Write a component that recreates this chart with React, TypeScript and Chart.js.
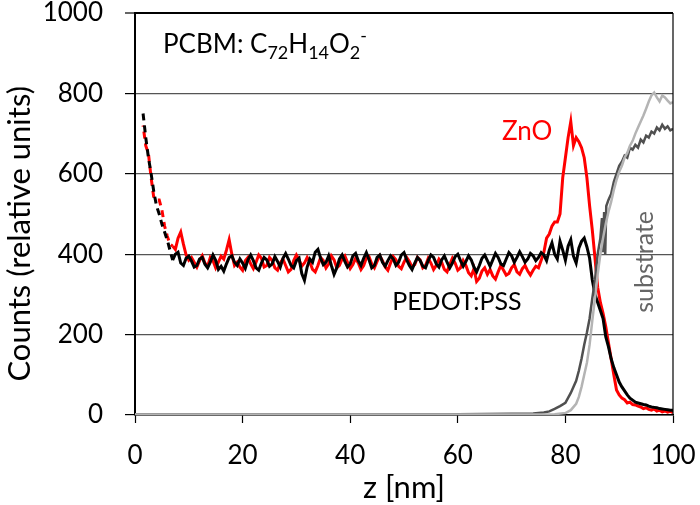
import React, { useEffect, useRef } from 'react';
import { Chart, registerables } from 'chart.js';

Chart.register(...registerables);

const FONT = 'Lato';

// depth grid (nm) for the PCBM-fragment profiles
const zGrid = [
  1.5, 2, 2.5, 3, 3.5, 4, 4.5, 5, 5.5, 6,
  6.5, 7, 7.5, 8, 8.5, 9, 9.5, 10, 10.5, 11,
  11.5, 12, 12.5, 13, 13.5, 14, 14.5, 15, 15.5, 16,
  16.5, 17, 17.5, 18, 18.5, 19, 19.5, 20, 20.5, 21,
  21.5, 22, 22.5, 23, 23.5, 24, 24.5, 25, 25.5, 26,
  26.5, 27, 27.5, 28, 28.5, 29, 29.5, 30, 30.5, 31,
  31.5, 32, 32.5, 33, 33.5, 34, 34.5, 35, 35.5, 36,
  36.5, 37, 37.5, 38, 38.5, 39, 39.5, 40, 40.5, 41,
  41.5, 42, 42.5, 43, 43.5, 44, 44.5, 45, 45.5, 46,
  46.5, 47, 47.5, 48, 48.5, 49, 49.5, 50, 50.5, 51,
  51.5, 52, 52.5, 53, 53.5, 54, 54.5, 55, 55.5, 56,
  56.5, 57, 57.5, 58, 58.5, 59, 59.5, 60, 60.5, 61,
  61.5, 62, 62.5, 63, 63.5, 64, 64.5, 65, 65.5, 66,
  66.5, 67, 67.5, 68, 68.5, 69, 69.5, 70, 70.5, 71,
  71.5, 72, 72.5, 73, 73.5, 74, 74.5, 75, 75.5, 76,
  76.5, 77, 77.5, 78, 78.5, 79, 79.5, 80, 80.5, 81,
  81.5, 82, 82.5, 83, 83.5, 84, 84.5, 85, 85.5, 86,
  86.5, 87, 87.5, 88, 88.5, 89, 89.5, 90, 90.5, 91,
  91.5, 92, 92.5, 93, 93.5, 94, 94.5, 95, 95.5, 96,
  96.5, 97, 97.5, 98, 98.5, 99, 99.5, 100,
];

// PCBM signal on PEDOT:PSS (black)
const pedotCounts = [
  750, 690, 640, 600, 555, 520, 500, 475, 455, 435,
  410, 385, 400, 405, 378, 372, 390, 395, 383, 368,
  372, 388, 392, 375, 366, 380, 398, 385, 362, 370,
  358, 376, 392, 396, 380, 372, 388, 378, 365, 386,
  398, 384, 366, 360, 378, 392, 386, 370, 376, 394,
  382, 368, 390, 402, 388, 372, 366, 384, 390, 352,
  335, 368, 388, 380, 405, 412, 390, 374, 380, 396,
  372, 350, 366, 388, 398, 382, 368, 376, 396, 402,
  384, 372, 390, 404, 386, 366, 372, 392, 398, 380,
  370, 384, 396, 388, 372, 380, 398, 404, 386, 372,
  362, 378, 392, 384, 370, 366, 384, 398, 392, 376,
  368, 386, 396, 380, 366, 378, 394, 400, 384, 370,
  382, 396, 386, 368, 356, 372, 390, 398, 384, 370,
  386, 402, 392, 376, 372, 388, 404, 396, 380, 392,
  406, 394, 380, 388, 402, 396, 384, 392, 404, 398,
  384, 410, 428, 400, 388, 432, 410, 385, 420, 436,
  395, 378, 415, 432, 440, 418, 390, 336, 300, 280,
  260, 240, 195, 170, 140, 118, 100, 82, 70, 60,
  50, 42, 37, 32, 30, 28, 26, 25, 22, 20,
  19, 18, 16, 15, 14, 13, 12, 12,
];

// PCBM signal on ZnO (red)
const znoCounts = [
  720, 670, 650, 590, 540, 535, 535, 510, 470, 445,
  425, 420, 412, 440, 455, 425, 398, 385, 392, 380,
  368, 384, 396, 378, 370, 392, 384, 366, 380, 395,
  388, 410, 436, 400, 372, 380, 368, 360, 384, 392,
  376, 364, 380, 398, 390, 368, 372, 392, 384, 366,
  360, 378, 388, 372, 356, 362, 384, 398, 386, 370,
  378, 392, 380, 362, 356, 372, 392, 384, 366, 376,
  396, 386, 366, 372, 388, 396, 380, 364, 374, 390,
  378, 362, 372, 390, 394, 376, 366, 382, 396, 384,
  368, 360, 378, 394, 386, 370, 364, 380, 392, 382,
  368, 374, 392, 386, 366, 372, 390, 378, 362, 372,
  388, 380, 362, 356, 374, 390, 378, 360, 366, 384,
  372, 354, 346, 364, 332, 340, 358, 366, 350, 362,
  346, 338, 356, 372, 360, 348, 352, 366, 374, 356,
  350, 364, 372, 358, 348, 360, 370, 366, 385, 405,
  440, 450, 470, 480, 480, 500, 590, 640, 690, 730,
  670, 690, 680, 665, 640, 590, 520, 460, 390, 318,
  280, 253, 220, 180, 140, 100, 62, 50, 42, 38,
  30, 32, 26, 25, 22, 20, 16, 18, 14, 12,
  15, 10, 12, 8, 10, 7, 9, 6,
];

// substrate signal, PEDOT:PSS sample (dark grey)
const zSubDark = [
  0, 10, 20, 30, 40, 50, 60, 70, 74, 76, 77, 78, 79, 80, 81, 82,
  82.5, 83, 83.5, 84, 84.5, 85, 85.5, 86, 86.5, 86.8,
  87, 87.2, 87.4, 87.6, 88, 88.5, 89, 89.5, 90, 90.5,
  91, 91.5, 92, 92.5, 93, 93.5, 94, 94.5, 95, 95.5,
  96, 96.5, 97, 97.5, 98, 98.5, 99, 99.5, 100,
];
const subDarkCounts = [
  2, 2, 2, 2, 2, 2, 2, 3, 4, 6, 9, 15, 22, 30, 55, 85,
  110, 140, 175, 205, 240, 290, 336, 400, 440, 490,
  405, 505, 400, 520, 535, 550, 580, 600, 620, 630,
  645, 640, 665, 660, 672, 665, 685, 678, 695, 690,
  705, 700, 715, 708, 722, 712, 718, 708, 712,
];

// substrate signal, ZnO sample (light grey)
const zSubLight = [
  0, 10, 20, 30, 40, 50, 60, 70,
  78, 80, 81, 82, 82.5, 83, 83.5, 84, 84.5, 85,
  85.5, 86, 86.5, 87, 87.5, 88, 88.5, 89, 89.5, 90,
  90.5, 91, 91.5, 92, 92.5, 93, 93.5, 94, 94.5, 95,
  95.5, 96, 96.5, 97, 97.5, 98, 98.5, 99, 99.5, 100,
];
const subLightCounts = [
  1, 1, 1, 1, 1, 1, 1, 1,
  2, 5, 12, 28, 45, 70, 100, 130, 175, 235,
  290, 350, 400, 440, 475, 505, 530, 560, 585, 605,
  620, 640, 652, 670, 682, 700, 715, 730, 745, 762,
  780, 795, 802, 790, 780, 795, 790, 782, 775, 778,
];

const xTickStep = 20;
const yTickStep = 200;

const toXY = (xs: number[], ys: number[]) => xs.map((x, i) => ({ x, y: ys[i] }));

const annotations = {
  id: 'annotations',
  afterDatasetsDraw(chart: any) {
    const { ctx, chartArea, scales } = chart;
    const x = scales.x;
    const y = scales.y;
    ctx.save();
    // right frame
    ctx.strokeStyle = '#000';
    ctx.lineWidth = 1.2;
    ctx.beginPath();
    ctx.moveTo(chartArea.right, chartArea.top);
    ctx.lineTo(chartArea.right, chartArea.bottom);
    ctx.stroke();

    // PCBM formula
    ctx.fillStyle = '#000';
    ctx.textBaseline = 'alphabetic';
    ctx.textAlign = 'left';
    let px = x.getPixelForValue(5.2);
    const base = y.getPixelForValue(923) + 9;
    const big = `26px ${FONT}`;
    const small = `18px ${FONT}`;
    const parts: [string, string, number][] = [
      ['PCBM: C', big, 0],
      ['72', small, 6],
      ['H', big, 0],
      ['14', small, 6],
      ['O', big, 0],
      ['2', small, 6],
      ['-', small, -11],
    ];
    parts.forEach(([t, f, dy]) => {
      ctx.font = f;
      ctx.fillText(t, px, base + dy);
      px += ctx.measureText(t).width;
    });

    // ZnO label
    ctx.font = `26px ${FONT}`;
    ctx.fillStyle = '#ff0000';
    ctx.textBaseline = 'middle';
    ctx.fillText('ZnO', x.getPixelForValue(68.2), y.getPixelForValue(706));

    // PEDOT:PSS label
    ctx.fillStyle = '#000';
    ctx.font = `25px ${FONT}`;
    ctx.fillText('PEDOT:PSS', x.getPixelForValue(47.8), y.getPixelForValue(281));

    // substrate label
    ctx.translate(x.getPixelForValue(94.8), y.getPixelForValue(381));
    ctx.rotate(-Math.PI / 2);
    ctx.textAlign = 'center';
    ctx.fillStyle = '#666';
    ctx.font = `25px ${FONT}`;
    ctx.fillText('substrate', 0, 0);
    ctx.restore();
  },
};

export default function App() {
  const ref = useRef<HTMLCanvasElement>(null);
  useEffect(() => {
    if (!ref.current) return;
    const dash = (offset: number) => ({
      borderDash: (c: any) => (c.p0.parsed.x < 6.9 ? [7, 5] : undefined),
      borderDashOffset: () => offset,
    });
    const chart = new Chart(ref.current, {
      type: 'line',
      data: {
        datasets: [
          {
            label: 'substrate (ZnO)',
            data: toXY(zSubLight, subLightCounts),
            borderColor: '#b4b4b4',
            borderWidth: 2.5,
            pointRadius: 0,
          },
          {
            label: 'substrate (PEDOT:PSS)',
            data: toXY(zSubDark, subDarkCounts),
            borderColor: '#505050',
            borderWidth: 2.5,
            pointRadius: 0,
          },
          {
            label: 'PEDOT:PSS',
            data: toXY(zGrid, pedotCounts),
            borderColor: '#000000',
            borderWidth: 3,
            pointRadius: 0,
            segment: dash(0),
          },
          {
            label: 'ZnO',
            data: toXY(zGrid, znoCounts),
            borderColor: '#ff0000',
            borderWidth: 3,
            pointRadius: 0,
            segment: dash(6),
          },
        ],
      },
      options: {
        animation: false,
        responsive: false,
        maintainAspectRatio: false,
        layout: { padding: { top: 13, right: 27, left: 0, bottom: 0 } },
        plugins: { legend: { display: false }, tooltip: { enabled: false } },
        scales: {
          x: {
            type: 'linear',
            min: 0,
            max: 100,
            ticks: {
              stepSize: xTickStep,
              font: { family: FONT, size: 26 },
              color: '#000',
              padding: 17,
              maxRotation: 0,
            },
            grid: { drawOnChartArea: false, tickLength: 8, tickColor: '#000', tickWidth: 1.2 },
            border: { color: '#000', width: 1.5 },
            title: {
              display: true,
              text: 'z [nm]',
              font: { family: FONT, size: 31 },
              color: '#000',
              padding: { top: 0, bottom: -2 },
            },
            afterFit: (s: any) => {
              s.height = 90;
              s.paddingLeft = 0;
              s.paddingRight = 0;
            },
          },
          y: {
            type: 'linear',
            min: 0,
            max: 1000,
            ticks: {
              stepSize: yTickStep,
              font: { family: FONT, size: 26 },
              color: '#000',
              padding: 22,
              callback: (v: any) => String(v),
            },
            grid: {
              color: (c: any) => (c.tick && c.tick.value === 1000 ? '#000' : '#555'),
              lineWidth: (c: any) => (c.tick && c.tick.value === 1000 ? 2 : 1.2),
              tickLength: 10,
              tickColor: '#000',
              tickWidth: 1.2,
            },
            border: { color: '#000', width: 2 },
            title: {
              display: true,
              text: 'Counts (relative units)     ',
              font: { family: FONT, size: 31 },
              color: '#000',
              padding: { top: 1, bottom: 0 },
            },
            afterFit: (s: any) => {
              s.width = 135;
              s.paddingTop = 0;
              s.paddingBottom = 0;
            },
          },
        },
      },
      plugins: [annotations],
    });
    return () => chart.destroy();
  }, []);
  return (
    <div style={{ position: 'fixed', left: 0, top: 0, width: 700, height: 505, background: '#fff' }}>
      <canvas ref={ref} width={700} height={505} style={{ width: 700, height: 505 }} />
    </div>
  );
}
